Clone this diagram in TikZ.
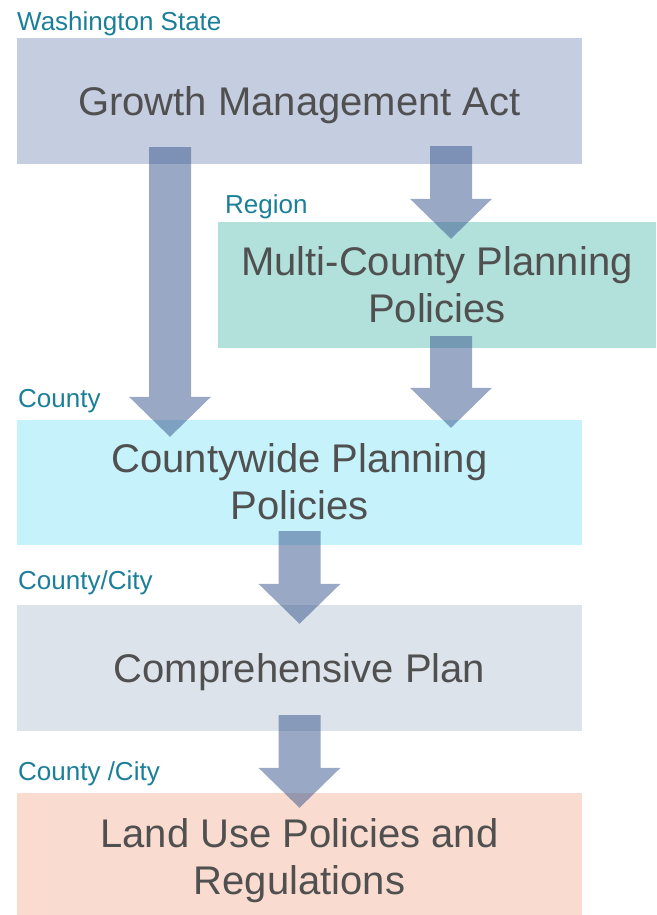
\documentclass[tikz,border=0pt]{standalone}
\usepackage{fontspec}
\setmainfont{Liberation Sans}
\usepackage{tikz}
\usetikzlibrary{shapes}
\usetikzlibrary{arrows}
\usetikzlibrary{positioning}
\usetikzlibrary{calc}

\definecolor{statefill}{HTML}{C5CDE0}
\definecolor{regionfill}{HTML}{B2E0DB}
\definecolor{countyfill}{HTML}{C6F2FB}
\definecolor{planfill}{HTML}{DCE3EB}
\definecolor{landfill}{HTML}{F9DBCF}
\definecolor{labeltext}{HTML}{1B7F99}
\definecolor{boxtext}{HTML}{505050}
\definecolor{arrowfill}{RGB}{62,90,143}

\begin{document}
\begin{tikzpicture}[x=1pt,y=-1pt]
\tikzstyle{level box}=[rectangle,inner sep=0pt,minimum width=565pt,minimum height=126pt,
text=boxtext,text depth=0pt,font=\fontsize{40}{47}\selectfont,align=center]
\tikzstyle{level label}=[anchor=base west,inner sep=0pt,text=labeltext,
font=\fontsize{26}{30}\selectfont]
\tikzstyle{flow arrow}=[fill=arrowfill,fill opacity=0.53,
to path={let \p1=(\tikztostart), \p2=(\tikztotarget) in
(\x1-21pt,\y1) -- (\x1+21pt,\y1) -- (\x1+21pt,\y2+40pt) -- (\x1+41pt,\y2+40pt)
-- (\x2,\y2) -- (\x1-41pt,\y2+40pt) -- (\x1-21pt,\y2+40pt) -- cycle}]
\useasboundingbox (0,0) rectangle (656,915);

\node[level box,fill=statefill] (gma) at (299.5,101) {Growth Management Act};
\node[level box,fill=regionfill,minimum width=438pt] (mcpp) at (437,284.5) {Multi-County Planning\\Policies};
\node[level box,fill=countyfill,minimum height=125pt] (cpp) at (299.5,482) {Countywide Planning\\Policies};
\node[level box,fill=planfill] (plan) at (299.5,667.5) {Comprehensive Plan};
\node[level box,fill=landfill] (land) at (299.5,856) {Land Use Policies and\\Regulations};

\node[level label] (state) at (17,31) {Washington State};
\node[level label] (region) at (225,213) {Region};
\node[level label] (county) at (18,407) {County};
\node[level label] (city) at (18,589) {County/City};
\node[level label] (city2) at (18,780) {County /City};

\coordinate (a1s) at ([xshift=-129.5pt,yshift=17pt]gma.south);
\coordinate (a1e) at ([xshift=-129.5pt,yshift=-17.5pt]cpp.north);
\coordinate (a2s) at ([xshift=151.5pt,yshift=18pt]gma.south);
\coordinate (a2e) at ([xshift=14pt,yshift=-17.5pt]mcpp.north);
\coordinate (a3s) at ([xshift=14pt,yshift=11.5pt]mcpp.south);
\coordinate (a3e) at ([xshift=151.5pt,yshift=-8.5pt]cpp.north);
\coordinate (a4s) at ([yshift=13.5pt]cpp.south);
\coordinate (a4e) at ([yshift=-19.5pt]plan.north);
\coordinate (a5s) at ([yshift=15.5pt]plan.south);
\coordinate (a5e) at ([yshift=-15pt]land.north);

\fill[flow arrow] (a1s) to (a1e);
\fill[flow arrow] (a2s) to (a2e);
\fill[flow arrow] (a3s) to (a3e);
\fill[flow arrow] (a4s) to (a4e);
\fill[flow arrow] (a5s) to (a5e);
\end{tikzpicture}
\end{document}
